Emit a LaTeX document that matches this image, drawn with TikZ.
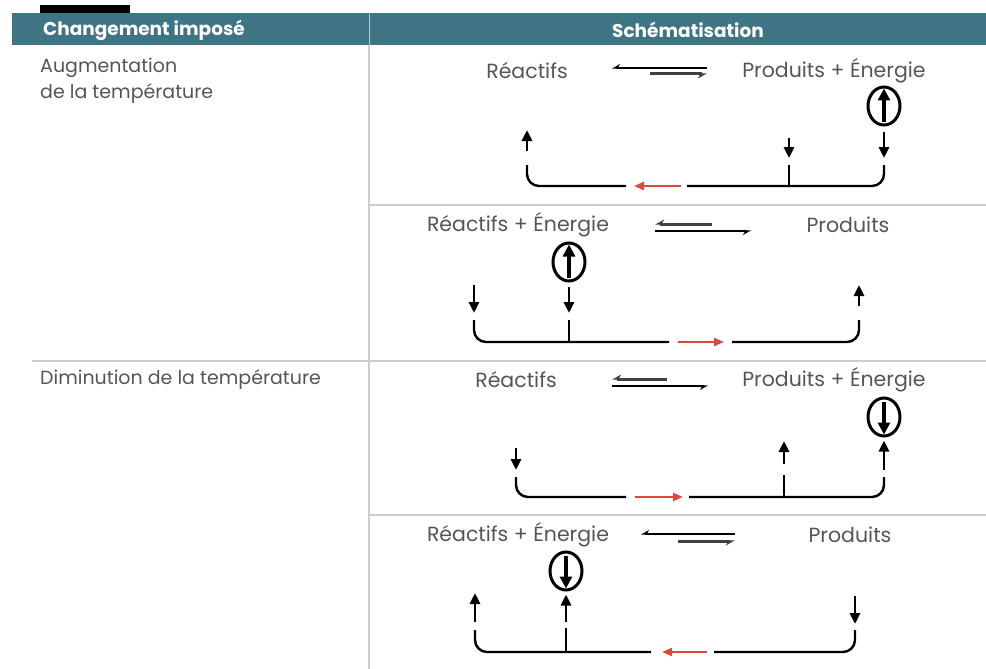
\documentclass[tikz,border=0pt]{standalone}
\usepackage{fontspec}
\setmainfont{Poppins}
\usetikzlibrary{arrows.meta,shapes.geometric,positioning}
\definecolor{bandteal}{RGB}{62,116,132}
\definecolor{txtgray}{RGB}{85,85,85}
\definecolor{rulegray}{RGB}{205,205,205}
\definecolor{shiftred}{RGB}{215,75,65}

\begin{document}
\begin{tikzpicture}[x=1pt,y=-1pt,
    lbl/.style={text=txtgray, font=\fontsize{20.5}{26}\selectfont, inner sep=0pt},
    cond/.style={text=txtgray, font=\fontsize{19}{26}\selectfont, inner sep=0pt, anchor=north west, align=left},
    head/.style={text=white, font=\fontsize{18.5}{20}\selectfont\bfseries, inner sep=0pt},
    rule/.style={draw=rulegray, line width=1.2pt},
    tick/.style={-{Triangle[length=11pt,width=10pt]}, line width=2.8pt},
    loopline/.style={line width=2.4pt, rounded corners=12pt},
    shiftarrow/.style={-{Triangle[length=10pt,width=8pt]}, line width=2.2pt, shiftred},
    ring/.style={draw, ellipse, line width=3pt, minimum width=32pt, minimum height=38pt, inner sep=0pt},
    inarrow/.style={-{Triangle[length=12pt,width=12pt]}, line width=3.8pt},
    thinharp/.style={-{Stealth[right,length=7pt,width=8pt]}, line width=1.3pt},
    fatharp/.style={-{Stealth[right,length=8pt,width=9pt]}, line width=3pt, black!75}
]
    \useasboundingbox (0,0) rectangle (986,669);

    % en-tete
    \fill[black] (40,5) rectangle (130,13);
    \fill[bandteal] (12,13) rectangle (986,45);
    \draw[white!60!bandteal, line width=1pt] (369,13) -- (369,45);
    \node[head, anchor=west] (hchg) at (43,30) {Changement imposé};
    \node[head] (hsch) at (688,30) {Schématisation};

    % lignes du tableau
    \draw[rule] (369,45) -- (369,669);
    \draw[rule] (369,205) -- (986,205);
    \draw[rule] (32,361) -- (986,361);
    \draw[rule] (369,515) -- (986,515);

    % colonne de gauche
    \node[cond] (aug) at (40,58) {Augmentation\\de la température};
    \node[cond, anchor=west] (dim) at (40,380) {Diminution de la température};

    % --- cas 1 : augmentation, reaction exothermique
    \node[lbl] (reac1) at (527,71) {Réactifs};
    \node[lbl] (prod1) at (834,71) {Produits + Énergie};
    \coordinate (eq1a) at (612,68); \coordinate (eq1b) at (707,68);
    \coordinate (eq1c) at (650,74); \coordinate (eq1d) at (707,74);
    \draw[thinharp] (eq1b) -- (eq1a);
    \draw[fatharp] (eq1c) -- (eq1d);
    \node[ring] (ring1) at (884,106) {};
    \draw[inarrow] ([yshift=5pt]ring1.south) -- ([yshift=-3pt]ring1.north);
    \coordinate (r1end) at (884,158);
    \draw[tick] ([yshift=-5pt]ring1.south) -- (r1end);
    \coordinate (m1top) at (789,138); \coordinate (m1end) at (789,158);
    \draw[tick] (m1top) -- (m1end);
    \coordinate (l1bot) at (527,151); \coordinate (l1end) at (527,130);
    \draw[tick] (l1bot) -- (l1end);
    \coordinate (b1l) at (527,165); \coordinate (b1r) at (884,165); \coordinate (b1m) at (789,165);
    \coordinate (g1l) at (626,186); \coordinate (g1r) at (687,186);
    \draw[loopline] (b1l) |- (g1l);
    \draw[loopline] (g1r) -| (b1r);
    \draw[line width=2.4pt] (b1m) -- (b1m |- g1r);
    \coordinate (s1a) at (681,186); \coordinate (s1b) at (634,186);
    \draw[shiftarrow] (s1a) -- (s1b);

    % --- cas 2 : augmentation, reaction endothermique
    \node[lbl] (reac2) at (518,225) {Réactifs + Énergie};
    \node[lbl] (prod2) at (848,225) {Produits};
    \coordinate (eq2a) at (655,224); \coordinate (eq2b) at (712,224);
    \coordinate (eq2c) at (655,231); \coordinate (eq2d) at (751,231);
    \draw[fatharp] (eq2b) -- (eq2a);
    \draw[thinharp] (eq2c) -- (eq2d);
    \node[ring] (ring2) at (569,262) {};
    \draw[inarrow] ([yshift=5pt]ring2.south) -- ([yshift=-3pt]ring2.north);
    \coordinate (r2end) at (569,313);
    \draw[tick] ([yshift=-4pt]ring2.south) -- (r2end);
    \coordinate (l2top) at (474,285); \coordinate (l2end) at (474,313);
    \draw[tick] (l2top) -- (l2end);
    \coordinate (rt2bot) at (859,306); \coordinate (rt2end) at (859,285);
    \draw[tick] (rt2bot) -- (rt2end);
    \coordinate (b2l) at (474,320); \coordinate (b2r) at (859,320); \coordinate (b2m) at (569,320);
    \coordinate (g2l) at (669,342); \coordinate (g2r) at (732,342);
    \draw[loopline] (b2l) |- (g2l);
    \draw[loopline] (g2r) -| (b2r);
    \draw[line width=2.4pt] (b2m) -- (b2m |- g2l);
    \coordinate (s2a) at (678,342); \coordinate (s2b) at (724,342);
    \draw[shiftarrow] (s2a) -- (s2b);

    % --- cas 3 : diminution, reaction exothermique
    \node[lbl] (reac3) at (516,380) {Réactifs};
    \node[lbl] (prod3) at (834,380) {Produits + Énergie};
    \coordinate (eq3a) at (612,379); \coordinate (eq3b) at (667,379);
    \coordinate (eq3c) at (612,386); \coordinate (eq3d) at (708,386);
    \draw[fatharp] (eq3b) -- (eq3a);
    \draw[thinharp] (eq3c) -- (eq3d);
    \node[ring] (ring3) at (884,417) {};
    \draw[inarrow] ([yshift=-5pt]ring3.north) -- ([yshift=3pt]ring3.south);
    \coordinate (r3bot) at (884,470);
    \draw[tick] (r3bot) -- ([yshift=-3pt]ring3.south);
    \coordinate (m3bot) at (784,464); \coordinate (m3end) at (784,441);
    \draw[tick] (m3bot) -- (m3end);
    \coordinate (l3top) at (516,448); \coordinate (l3end) at (516,470);
    \draw[tick] (l3top) -- (l3end);
    \coordinate (b3l) at (516,477); \coordinate (b3r) at (884,477); \coordinate (b3m) at (784,475);
    \coordinate (g3l) at (626,497); \coordinate (g3r) at (689,497);
    \draw[loopline] (b3l) |- (g3l);
    \draw[loopline] (g3r) -| (b3r);
    \draw[line width=2.4pt] (b3m) -- (b3m |- g3r);
    \coordinate (s3a) at (635,497); \coordinate (s3b) at (683,497);
    \draw[shiftarrow] (s3a) -- (s3b);

    % --- cas 4 : diminution, reaction endothermique
    \node[lbl] (reac4) at (518,535) {Réactifs + Énergie};
    \node[lbl] (prod4) at (850,535) {Produits};
    \coordinate (eq4a) at (641,534); \coordinate (eq4b) at (735,534);
    \coordinate (eq4c) at (678,541); \coordinate (eq4d) at (735,541);
    \draw[thinharp] (eq4b) -- (eq4a);
    \draw[fatharp] (eq4c) -- (eq4d);
    \node[ring] (ring4) at (566,571) {};
    \draw[inarrow] ([yshift=-5pt]ring4.north) -- ([yshift=3pt]ring4.south);
    \coordinate (r4bot) at (566,622);
    \draw[tick] (r4bot) -- ([yshift=-3pt]ring4.south);
    \coordinate (l4bot) at (475,622); \coordinate (l4end) at (475,593);
    \draw[tick] (l4bot) -- (l4end);
    \coordinate (rt4top) at (855,596); \coordinate (rt4end) at (855,624);
    \draw[tick] (rt4top) -- (rt4end);
    \coordinate (b4l) at (475,630); \coordinate (b4r) at (855,630); \coordinate (b4m) at (566,628);
    \coordinate (g4l) at (651,652); \coordinate (g4r) at (714,652);
    \draw[loopline] (b4l) |- (g4l);
    \draw[loopline] (g4r) -| (b4r);
    \draw[line width=2.4pt] (b4m) -- (b4m |- g4l);
    \coordinate (s4a) at (707,652); \coordinate (s4b) at (662,652);
    \draw[shiftarrow] (s4a) -- (s4b);
\end{tikzpicture}
\end{document}
